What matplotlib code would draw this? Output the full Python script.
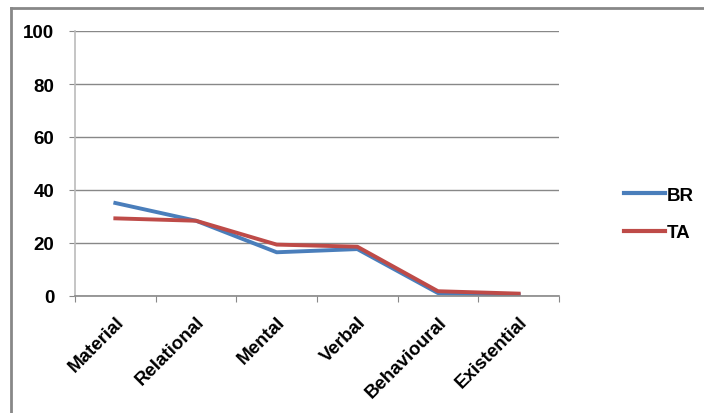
import matplotlib
matplotlib.use("Agg")
import matplotlib.pyplot as plt
from matplotlib.lines import Line2D

categories = ["Material", "Relational", "Mental", "Verbal", "Behavioural", "Existential"]
br_values = [35.1, 28.4, 16.5, 17.7, 1.1, 0.5]
ta_values = [29.3, 28.4, 19.4, 18.6, 1.8, 0.9]
y_ticks = [0, 20, 40, 60, 80, 100]

plt.rcParams['font.family'] = ['Liberation Sans', 'DejaVu Sans']
FS = 13.5

fig = plt.figure(figsize=(7.04, 4.14), dpi=100)
ax = fig.add_axes([75/704, 1-297/414, (559-75)/704, (297-32)/414])

x = list(range(len(categories)))
ax.plot(x, br_values, color="#4A7EBB", lw=2.8, label="BR", solid_joinstyle='round')
ax.plot(x, ta_values, color="#BE4B48", lw=2.8, label="TA", solid_joinstyle='round')

ax.set_xlim(-0.5, len(categories) - 0.5)
ax.set_ylim(0, 100)
ax.set_yticks(y_ticks)
ax.set_yticklabels([str(v) for v in y_ticks], fontsize=FS, fontweight='bold')
ax.set_xticks([i - 0.5 for i in range(len(categories) + 1)])
ax.set_xticklabels([])
ax.set_xticks(x, minor=True)
ax.set_xticklabels(categories, minor=True, rotation=45, ha='right', va='top',
                   rotation_mode='anchor', fontsize=FS, fontweight='bold')
ax.tick_params(axis='x', which='minor', length=0, pad=12)
ax.tick_params(axis='x', which='major', length=4.5, color='#888888', direction='out')
ax.tick_params(axis='y', length=4.5, color='#888888', direction='out', pad=10.5)

ax.grid(axis='y', color='#888888', lw=1)
ax.set_axisbelow(True)
for s in ['top', 'right']:
    ax.spines[s].set_visible(False)
ax.spines['left'].set_color('#BBBBBB')
ax.spines['left'].set_linewidth(1.2)
ax.spines['bottom'].set_color('#888888')
ax.spines['bottom'].set_linewidth(1.2)

leg = fig.legend(handles=[Line2D([], [], color="#4A7EBB", lw=3),
                          Line2D([], [], color="#BE4B48", lw=3)],
                 labels=["BR", "TA"], loc='center left',
                 bbox_to_anchor=(607/704, 1-215/414), frameon=False,
                 prop={'size': FS, 'weight': 'bold'}, handlelength=2.2,
                 handletextpad=0.1, labelspacing=1.1)

# outer chart border
fig.add_artist(Line2D([11/704, 1], [1-9/414, 1-9/414], transform=fig.transFigure,
                      color='#888888', lw=2))
fig.add_artist(Line2D([11/704, 11/704], [0, 1-9/414], transform=fig.transFigure,
                      color='#888888', lw=2))

fig.savefig("out.png", dpi=100)
